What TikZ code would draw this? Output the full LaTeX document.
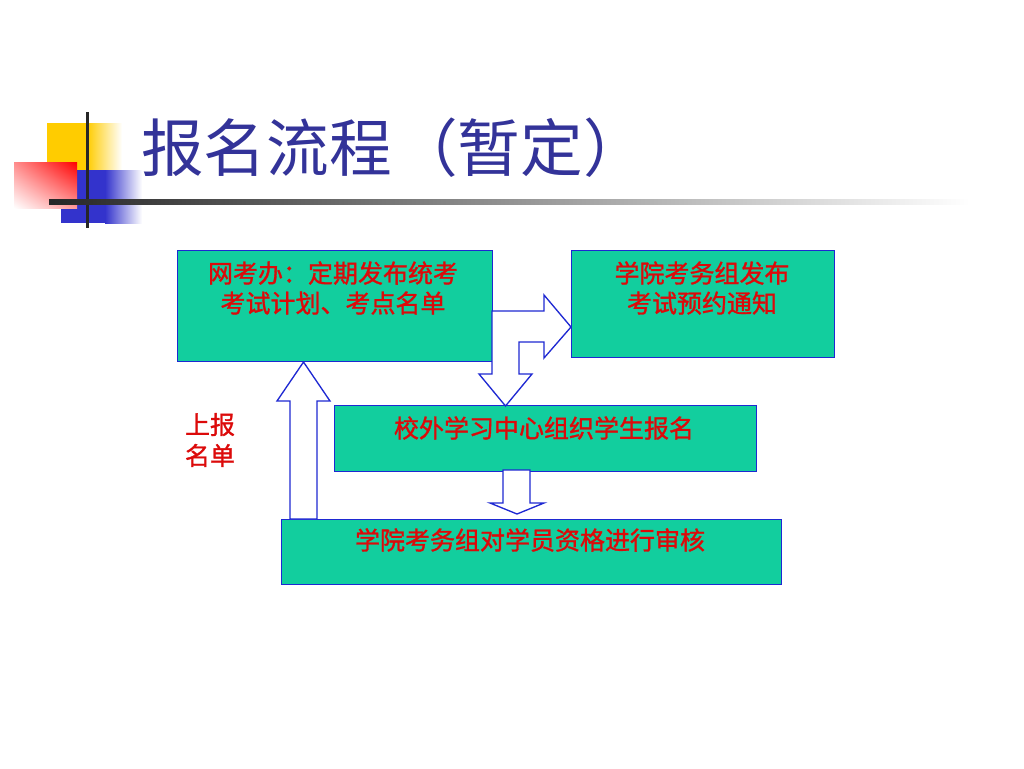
\documentclass[tikz,border=0pt]{standalone}
\usepackage{fontspec}
\usetikzlibrary{shadings}
\setmainfont{Noto Sans CJK SC}
\newfontfamily\boxfont{Noto Sans CJK SC}[FakeBold=1.2]
\definecolor{teal1}{RGB}{18,206,158}
\definecolor{edge1}{RGB}{30,40,210}
\definecolor{txtred}{RGB}{220,10,10}
\definecolor{titleblue}{RGB}{51,51,153}
\definecolor{deco-yellow}{RGB}{255,204,0}
\definecolor{deco-blue}{RGB}{51,51,204}
\tikzset{
  flowbox/.style={draw=edge1, line width=1pt, fill=teal1, anchor=north west, inner sep=0pt},
  boxtext/.style={text=txtred, align=center, font=\boxfont\fontsize{18.75pt}{22.5pt}\selectfont, inner sep=0pt},
  blockarrow/.style={draw=edge1, line width=1pt, fill=white, line join=miter}
}
\begin{document}
\begin{tikzpicture}[x=0.75pt,y=-0.75pt]
\useasboundingbox (0,0) rectangle (1024,768);
\fill[white] (0,0) rectangle (1024,768);
% decoration
\fill[deco-yellow] (47,123) rectangle (87,170);
\shade[left color=deco-yellow,right color=white] (87,123) rectangle (122,170);
\fill[deco-blue] (61,170) rectangle (105,223);
\shade[left color=deco-blue,right color=white] (105,170) rectangle (142,223);
\shade[upper left=red!45, upper right=red, lower left=white, lower right=red!40] (14,162) rectangle (77,208);
\draw[line width=2.25pt, black!85] (87,112) -- (87,228);
\shade[left color=black!85, middle color=black!45, right color=white] (49,199) rectangle (970,204);
% title
\node[anchor=west, text=titleblue, font=\fontsize{47pt}{50pt}\selectfont, inner sep=0pt] (title) at (141,148)
  {报名流程\makebox[1.05em][r]{（}暂定\makebox[1em][l]{）}};
% boxes
\node[flowbox, minimum width=315*0.75pt, minimum height=111*0.75pt] (b1) at (177,250) {};
\node[flowbox, minimum width=263*0.75pt, minimum height=107*0.75pt] (b2) at (571,250) {};
\node[flowbox, minimum width=422*0.75pt, minimum height=66*0.75pt] (b3) at (334,405) {};
\node[flowbox, minimum width=500*0.75pt, minimum height=65*0.75pt] (b4) at (281,519) {};
% texts
\node[boxtext] (t1) at (333,288) {网考办：定期发布统考\\考试计划、考点名单};
\node[boxtext] (t2) at (702,288) {学院考务组发布\\考试预约通知};
\node[boxtext] (t3) at (544,428) {校外学习中心组织学生报名};
\node[boxtext] (t4) at (530,540) {学院考务组对学员资格进行审核};
\node[boxtext, font=\boxfont\fontsize{18.75pt}{23.25pt}\selectfont] (t5) at (210,440) {上报\\名单};
% block arrows
\draw[blockarrow] (492,311) -- (544,311) -- (544,295) -- (571,327) -- (544,358) -- (544,342)
  -- (519,342) -- (519,374) -- (532,374) -- (505.5,406) -- (479,374) -- (492,374) -- cycle;
\draw[blockarrow] (290,519) -- (290,401) -- (277,401) -- (303.5,362) -- (330,401) -- (317,401) -- (317,519) -- cycle;
\draw[blockarrow] (503,470) -- (530,470) -- (530,503) -- (544,503) -- (517,514) -- (490,503) -- (503,503) -- cycle;
\end{tikzpicture}
\end{document}
